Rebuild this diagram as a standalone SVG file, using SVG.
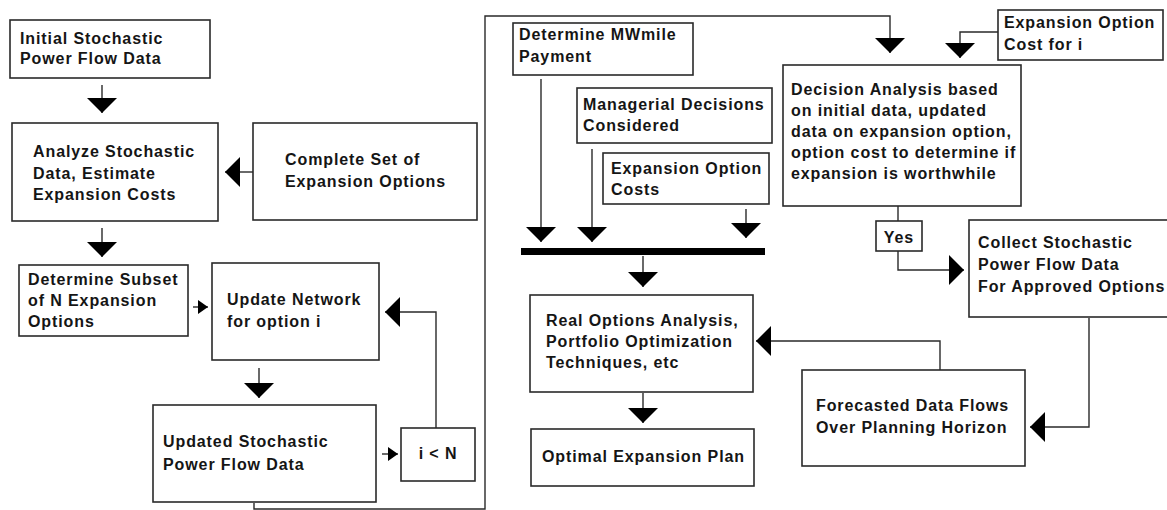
<svg xmlns="http://www.w3.org/2000/svg" width="1167" height="510" viewBox="0 0 1167 510">
<style>
.box{fill:#fff;stroke:#2a2a2a;stroke-width:1.6}
.t{font-family:"Liberation Sans",Arial,sans-serif;font-weight:bold;font-size:16px;letter-spacing:0.9px;fill:#151515}
.c{fill:none;stroke:#2a2a2a;stroke-width:1.4}
.cb{marker-end:url(#big)}
.cs{marker-end:url(#small)}
</style>
<defs>
<marker id="big" markerUnits="userSpaceOnUse" markerWidth="16" markerHeight="30" refX="15" refY="15" orient="auto" viewBox="0 0 16 30">
<path d="M0,0 L15,15 L0,30 Z" fill="#000"/>
</marker>
<marker id="small" markerUnits="userSpaceOnUse" markerWidth="11" markerHeight="14" refX="10" refY="7" orient="auto" viewBox="0 0 11 14">
<path d="M0,0 L10,7 L0,14 Z" fill="#000"/>
</marker>
</defs>
<rect width="1167" height="510" fill="#fff"/>

<g id="connectors">
<path class="c cb" d="M102,85 V113"/>
<path class="c cb" d="M253,172 H225"/>
<path class="c cb" d="M102,228 V257"/>
<path class="c cs" d="M193,307 H208"/>
<path class="c cb" d="M259,368 V398"/>
<path class="c cs" d="M382,454 H398"/>
<path class="c cb" d="M436,428 V312 H385"/>
<path class="c cb" d="M254,503 V509 H485 V16 H890 V53"/>
<path class="c cb" d="M998,32 H960 V58"/>
<path class="c cb" d="M541,79 V242"/>
<path class="c cb" d="M592,149 V242"/>
<path class="c cb" d="M746,209 V238"/>
<rect x="521" y="248" width="244" height="7" fill="#000"/>
<path class="c cb" d="M643,256 V287"/>
<path class="c cb" d="M643,393 V423"/>
<path class="c" d="M898,206 V221"/>
<path class="c cb" d="M898,251 V270 H964"/>
<path class="c cb" d="M1089,318 V427 H1030"/>
<path class="c cb" d="M940,370 V341 H756"/>
</g>

<g id="n-initial"><rect class="box" x="10" y="20" width="200" height="58"/>
<text class="t" x="20" y="44">Initial Stochastic</text><text class="t" x="20" y="64">Power Flow Data</text></g>

<g id="n-analyze"><rect class="box" x="12" y="123" width="206" height="98"/>
<text class="t" x="33" y="157">Analyze Stochastic</text><text class="t" x="33" y="179">Data, Estimate</text><text class="t" x="33" y="200">Expansion Costs</text></g>

<g id="n-complete"><rect class="box" x="253" y="123" width="224" height="97"/>
<text class="t" x="285" y="165">Complete Set of</text><text class="t" x="285" y="187">Expansion Options</text></g>

<g id="n-subset"><rect class="box" x="19" y="265" width="169" height="71"/>
<text class="t" x="28" y="285">Determine Subset</text><text class="t" x="28" y="306">of N Expansion</text><text class="t" x="28" y="327">Options</text></g>

<g id="n-update"><rect class="box" x="212" y="263" width="167" height="97"/>
<text class="t" x="227" y="305">Update Network</text><text class="t" x="227" y="327">for option i</text></g>

<g id="n-updated"><rect class="box" x="153" y="405" width="223" height="97"/>
<text class="t" x="163" y="447">Updated Stochastic</text><text class="t" x="163" y="470">Power Flow Data</text></g>

<g id="n-iltn"><rect class="box" x="401" y="428" width="74" height="53"/>
<text class="t" x="438" y="459" text-anchor="middle">i &lt; N</text></g>

<g id="n-mwmile"><rect class="box" x="513" y="23" width="180" height="52"/>
<text class="t" x="519" y="40">Determine MWmile</text><text class="t" x="519" y="62">Payment</text></g>

<g id="n-managerial"><rect class="box" x="577" y="88" width="195" height="55"/>
<text class="t" x="583" y="110">Managerial Decisions</text><text class="t" x="583" y="131">Considered</text></g>

<g id="n-expcosts"><rect class="box" x="603" y="153" width="166" height="51"/>
<text class="t" x="611" y="174">Expansion Option</text><text class="t" x="611" y="195">Costs</text></g>

<g id="n-real"><rect class="box" x="530" y="295" width="223" height="97"/>
<text class="t" x="546" y="326">Real Options Analysis,</text><text class="t" x="546" y="347">Portfolio Optimization</text><text class="t" x="546" y="368">Techniques, etc</text></g>

<g id="n-optimal"><rect class="box" x="531" y="429" width="223" height="57"/>
<text class="t" x="542" y="462">Optimal Expansion Plan</text></g>

<g id="n-expcosti"><rect class="box" x="998" y="10" width="165" height="50"/>
<text class="t" x="1004" y="28">Expansion Option</text><text class="t" x="1004" y="50">Cost for i</text></g>

<g id="n-decision"><rect class="box" x="783" y="65" width="238" height="141"/>
<text class="t" x="791" y="95">Decision Analysis based</text><text class="t" x="791" y="116">on initial data, updated</text><text class="t" x="791" y="137">data on expansion option,</text><text class="t" x="791" y="158">option cost to determine if</text><text class="t" x="791" y="179">expansion is worthwhile</text></g>

<g id="n-yes"><rect class="box" x="876" y="221" width="46" height="30"/>
<text class="t" x="899" y="243" text-anchor="middle">Yes</text></g>

<g id="n-collect"><rect class="box" x="969" y="220" width="210" height="97"/>
<text class="t" x="978" y="248">Collect Stochastic</text><text class="t" x="978" y="270">Power Flow Data</text><text class="t" x="978" y="292">For Approved Options</text></g>

<g id="n-forecast"><rect class="box" x="802" y="370" width="223" height="96"/>
<text class="t" x="816" y="411">Forecasted Data Flows</text><text class="t" x="816" y="433">Over Planning Horizon</text></g>
</svg>
